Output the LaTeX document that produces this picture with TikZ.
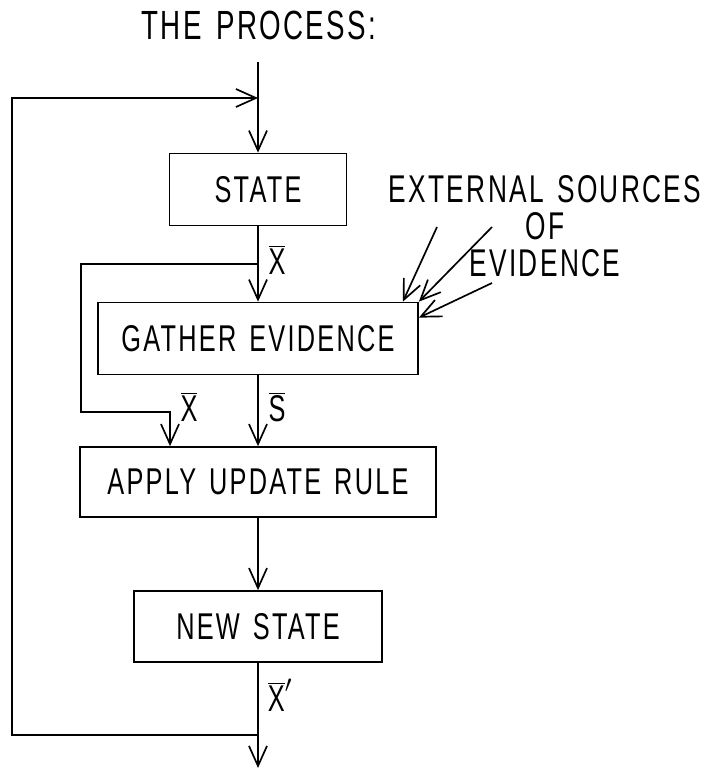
\documentclass[tikz,border=0pt]{standalone}
\usepackage{fontspec}
\setmainfont[FakeStretch=0.68, LetterSpace=6, WordSpace=1.4]{Liberation Sans}
\usepackage{tikz}
\usetikzlibrary{arrows.meta,positioning}

\newcommand{\barred}[1]{$\overline{\mbox{#1}}$}

\begin{document}
\begin{tikzpicture}[x=0.025cm, y=-0.025cm, line width=1.2pt,
		>={Straight Barb[length=5mm,width=4.5mm]},
		stagebox/.style={draw, line width=1.2pt, minimum height=1.8cm, inner sep=0pt,
			font=\fontsize{26.5}{30}\selectfont},
		flowlabel/.style={font=\fontsize{26.5}{30}\selectfont, inner sep=0pt}]
		\useasboundingbox (0,0) rectangle (706,769);

		% 1. Title
		\node[font=\fontsize{29}{32}\selectfont, inner sep=0pt] (title) at (259,25) {THE PROCESS:};

		% 2. The four stages
		\node[stagebox, minimum width=4.425cm] (state) at (258,189.5) {STATE};
		\node[stagebox, minimum width=8cm] (gather) at (258,338.5) {GATHER EVIDENCE};
		\node[stagebox, minimum width=8.9cm, minimum height=1.75cm] (apply) at (258,482) {APPLY UPDATE RULE};
		\node[stagebox, minimum width=6.2cm, minimum height=1.775cm] (newstate) at (258,626.5) {NEW STATE};

		% 3. Points on the main line
		\coordinate (entry) at (258,62);
		\coordinate (merge) at (258,98);
		\coordinate (split) at (258,264);
		\coordinate (exit) at (258,735);
		\coordinate (outlet) at (258,768);

		% 4. Main flow
		\draw (entry) -- (merge);
		\draw[->] (merge) -- (state);
		\draw[->] (state) -- (gather);
		\draw[->] (gather) -- (apply);
		\draw[->] (apply) -- (newstate);
		\draw (newstate) -- (exit);
		\draw[->] (exit) -- (outlet);

		% State copy going round the evidence box
		\draw[->] (split) -| (81,412) -| (apply.north -| 170,0);

		% Feedback of the new state
		\draw[->] (exit) -| (12,98) -- (merge);

		% 5. Labels on the lines
		\node[flowlabel] (xstate) at (277,260) {\barred{X}};
		\node[flowlabel] (xcopy) at (189,407) {\barred{X}};
		\node[flowlabel] (svec) at (277,407) {\barred{S}};
		\node[flowlabel] (xnew) at (280,695) {$\overline{\mbox{X}}'$};

		% 6. External sources
		\node[font=\fontsize{27.5}{26.2}\selectfont, align=center, inner sep=0pt] (sources) at (545,226.5)
			{EXTERNAL SOURCES\\OF\\EVIDENCE};
		\coordinate (src1) at (437,227);
		\coordinate (src2) at (492,227);
		\coordinate (src3) at (492,283);
		\draw[->] (src1) -- ([xshift=-0.4cm]gather.north east);
		\draw[->] (src2) -- (gather.north east);
		\draw[->] (src3) -- ([yshift=-0.4cm]gather.north east);
	\end{tikzpicture}
\end{document}
